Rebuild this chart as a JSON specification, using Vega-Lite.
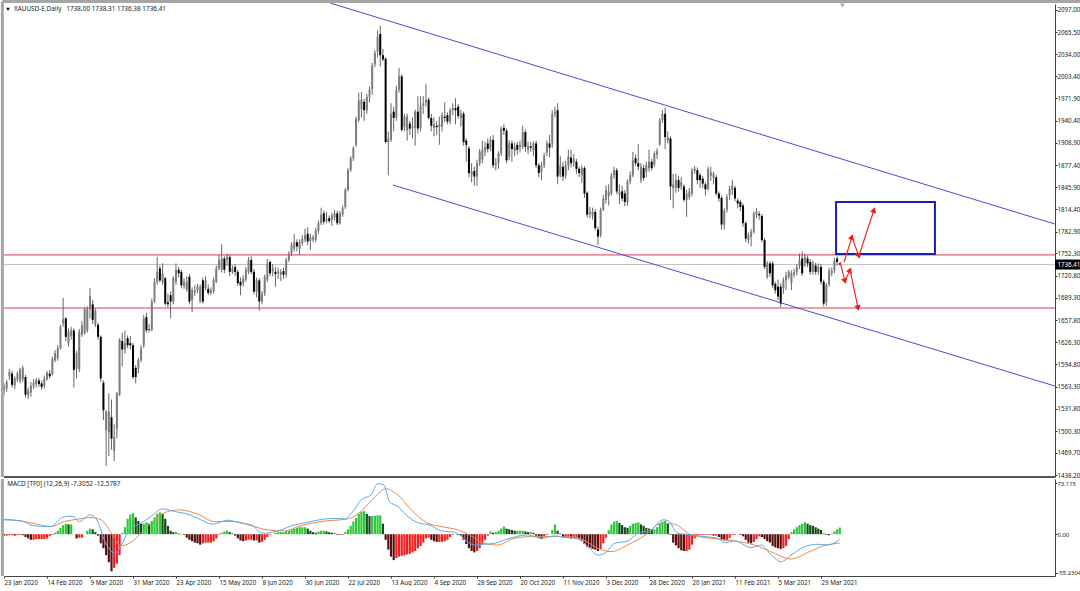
{
"$schema":"https://vega.github.io/schema/vega-lite/v6.json",
"padding":0,
"spacing":-2,
"background":"white",
"config":{"view":{"stroke":null},"text":{"font":"Noto Sans"},
"axis":{"labelFont":"Noto Sans","labelFontSize":6.2,"labelColor":"#222","tickColor":"#333","domainColor":"#444","tickSize":2,"grid":false,"title":null,"labelPadding":0}},
"datasets":{
"bars":[
{"i":0,"o":1558,"h":1568,"l":1551,"c":1564,"m":-2},{"i":1,"o":1561,"h":1573,"l":1556,"c":1570,"m":-2},{"i":2,"o":1578,"h":1588,"l":1573,"c":1584,"m":-1.5},{"i":3,"o":1582,"h":1586,"l":1562,"c":1566,"m":-1.5},{"i":4,"o":1565,"h":1578,"l":1560,"c":1575,"m":-2},{"i":5,"o":1573,"h":1585,"l":1570,"c":1582,"m":-1.5},{"i":6,"o":1572,"h":1590,"l":1568,"c":1588,"m":-1},{"i":7,"o":1574,"h":1593,"l":1570,"c":1590,"m":-1.5},
{"i":8,"o":1577,"h":1580,"l":1548,"c":1552,"m":-4},{"i":9,"o":1551,"h":1562,"l":1546,"c":1558,"m":-6},{"i":10,"o":1555,"h":1570,"l":1549,"c":1565,"m":-8},{"i":11,"o":1564,"h":1574,"l":1560,"c":1569,"m":-8},{"i":12,"o":1567,"h":1576,"l":1562,"c":1573,"m":-7},{"i":13,"o":1572,"h":1576,"l":1563,"c":1567,"m":-7},{"i":14,"o":1568,"h":1572,"l":1559,"c":1563,"m":-7},{"i":15,"o":1565,"h":1579,"l":1561,"c":1575,"m":-7},
{"i":16,"o":1574,"h":1586,"l":1572,"c":1583,"m":-6},{"i":17,"o":1582,"h":1587,"l":1575,"c":1578,"m":-3},{"i":18,"o":1581,"h":1606,"l":1579,"c":1603,"m":-1},{"i":19,"o":1601,"h":1615,"l":1598,"c":1611,"m":2},{"i":20,"o":1604,"h":1622,"l":1600,"c":1618,"m":5},{"i":21,"o":1618,"h":1651,"l":1616,"c":1648,"m":9},{"i":22,"o":1653,"h":1689,"l":1648,"c":1659,"m":13},{"i":23,"o":1660,"h":1662,"l":1628,"c":1634,"m":15},
{"i":24,"o":1625,"h":1646,"l":1620,"c":1641,"m":14},{"i":25,"o":1635,"h":1648,"l":1630,"c":1643,"m":14},{"i":26,"o":1643,"h":1646,"l":1562,"c":1587,"m":0},{"i":27,"o":1589,"h":1614,"l":1575,"c":1611,"m":-6},{"i":28,"o":1588,"h":1645,"l":1584,"c":1641,"m":-5},{"i":29,"o":1637,"h":1656,"l":1634,"c":1650,"m":-5},{"i":30,"o":1639,"h":1676,"l":1637,"c":1673,"m":0},{"i":31,"o":1643,"h":1677,"l":1640,"c":1674,"m":5},
{"i":32,"o":1674,"h":1703,"l":1660,"c":1692,"m":8},{"i":33,"o":1680,"h":1686,"l":1652,"c":1658,"m":7},{"i":34,"o":1651,"h":1674,"l":1648,"c":1671,"m":3},{"i":35,"o":1651,"h":1654,"l":1630,"c":1634,"m":-2},{"i":36,"o":1634,"h":1636,"l":1570,"c":1575,"m":-13},{"i":37,"o":1569,"h":1572,"l":1516,"c":1530,"m":-20},{"i":38,"o":1502,"h":1530,"l":1451,"c":1528,"m":-30},{"i":39,"o":1499,"h":1554,"l":1465,"c":1528,"m":-40},
{"i":40,"o":1520,"h":1545,"l":1474,"c":1490,"m":-53},{"i":41,"o":1472,"h":1510,"l":1458,"c":1492,"m":-48},{"i":42,"o":1504,"h":1556,"l":1490,"c":1554,"m":-42},{"i":43,"o":1552,"h":1632,"l":1550,"c":1630,"m":-30},{"i":44,"o":1628,"h":1640,"l":1592,"c":1616,"m":2},{"i":45,"o":1616,"h":1643,"l":1610,"c":1625,"m":10},{"i":46,"o":1632,"h":1636,"l":1618,"c":1622,"m":22},{"i":47,"o":1625,"h":1635,"l":1616,"c":1622,"m":28},
{"i":48,"o":1622,"h":1625,"l":1574,"c":1577,"m":30},{"i":49,"o":1590,"h":1594,"l":1568,"c":1577,"m":24},{"i":50,"o":1589,"h":1604,"l":1582,"c":1601,"m":19},{"i":51,"o":1601,"h":1622,"l":1598,"c":1618,"m":15},{"i":52,"o":1622,"h":1665,"l":1618,"c":1660,"m":15},{"i":53,"o":1662,"h":1668,"l":1640,"c":1643,"m":17},{"i":54,"o":1645,"h":1652,"l":1640,"c":1644,"m":15},{"i":55,"o":1644,"h":1688,"l":1642,"c":1684,"m":19},
{"i":56,"o":1684,"h":1717,"l":1682,"c":1712,"m":24},{"i":57,"o":1712,"h":1747,"l":1708,"c":1726,"m":29},{"i":58,"o":1731,"h":1735,"l":1711,"c":1714,"m":31},{"i":59,"o":1712,"h":1738,"l":1708,"c":1724,"m":29},{"i":60,"o":1717,"h":1719,"l":1678,"c":1681,"m":22},{"i":61,"o":1683,"h":1695,"l":1676,"c":1680,"m":12},{"i":62,"o":1693,"h":1698,"l":1660,"c":1684,"m":5},{"i":63,"o":1684,"h":1720,"l":1680,"c":1717,"m":3},
{"i":64,"o":1712,"h":1738,"l":1708,"c":1729,"m":3},{"i":65,"o":1729,"h":1733,"l":1718,"c":1724,"m":1},{"i":66,"o":1726,"h":1729,"l":1703,"c":1707,"m":0.5},{"i":67,"o":1706,"h":1717,"l":1702,"c":1712,"m":-1},{"i":68,"o":1701,"h":1720,"l":1698,"c":1712,"m":-5},{"i":69,"o":1719,"h":1723,"l":1680,"c":1684,"m":-8},{"i":70,"o":1686,"h":1704,"l":1669,"c":1700,"m":-10},{"i":71,"o":1697,"h":1707,"l":1692,"c":1700,"m":-12},
{"i":72,"o":1700,"h":1709,"l":1696,"c":1705,"m":-13},{"i":73,"o":1684,"h":1708,"l":1682,"c":1705,"m":-15},{"i":74,"o":1714,"h":1718,"l":1681,"c":1684,"m":-13},{"i":75,"o":1703,"h":1720,"l":1700,"c":1714,"m":-12},{"i":76,"o":1702,"h":1708,"l":1693,"c":1696,"m":-12},{"i":77,"o":1696,"h":1704,"l":1693,"c":1700,"m":-12},{"i":78,"o":1698,"h":1718,"l":1695,"c":1714,"m":-10},{"i":79,"o":1712,"h":1735,"l":1710,"c":1731,"m":-6},
{"i":80,"o":1731,"h":1750,"l":1728,"c":1743,"m":-1},{"i":81,"o":1729,"h":1765,"l":1725,"c":1745,"m":2},{"i":82,"o":1745,"h":1748,"l":1724,"c":1729,"m":4},{"i":83,"o":1743,"h":1752,"l":1735,"c":1747,"m":5},{"i":84,"o":1747,"h":1750,"l":1720,"c":1726,"m":3},{"i":85,"o":1726,"h":1735,"l":1723,"c":1731,"m":1},{"i":86,"o":1733,"h":1737,"l":1720,"c":1726,"m":-2},{"i":87,"o":1726,"h":1729,"l":1706,"c":1710,"m":-6},
{"i":88,"o":1712,"h":1718,"l":1693,"c":1707,"m":-9},{"i":89,"o":1710,"h":1721,"l":1705,"c":1717,"m":-10},{"i":90,"o":1715,"h":1733,"l":1712,"c":1729,"m":-9},{"i":91,"o":1726,"h":1747,"l":1723,"c":1743,"m":-8},{"i":92,"o":1743,"h":1748,"l":1723,"c":1726,"m":-8},{"i":93,"o":1726,"h":1730,"l":1694,"c":1698,"m":-9},{"i":94,"o":1698,"h":1718,"l":1690,"c":1714,"m":-9},{"i":95,"o":1714,"h":1717,"l":1671,"c":1684,"m":-12},
{"i":96,"o":1684,"h":1699,"l":1680,"c":1695,"m":-11},{"i":97,"o":1695,"h":1722,"l":1692,"c":1719,"m":-8},{"i":98,"o":1715,"h":1744,"l":1712,"c":1738,"m":-4},{"i":99,"o":1740,"h":1742,"l":1720,"c":1724,"m":-1},{"i":100,"o":1727,"h":1737,"l":1720,"c":1731,"m":0},{"i":101,"o":1726,"h":1733,"l":1705,"c":1723,"m":2},{"i":102,"o":1724,"h":1732,"l":1716,"c":1727,"m":3},{"i":103,"o":1722,"h":1730,"l":1713,"c":1726,"m":3},
{"i":104,"o":1727,"h":1732,"l":1716,"c":1722,"m":3},{"i":105,"o":1722,"h":1746,"l":1718,"c":1743,"m":4},{"i":106,"o":1743,"h":1755,"l":1740,"c":1752,"m":5},{"i":107,"o":1752,"h":1768,"l":1749,"c":1764,"m":7},{"i":108,"o":1759,"h":1780,"l":1755,"c":1768,"m":8},{"i":109,"o":1768,"h":1772,"l":1755,"c":1762,"m":9},{"i":110,"o":1759,"h":1772,"l":1750,"c":1768,"m":10},{"i":111,"o":1767,"h":1778,"l":1763,"c":1773,"m":10},
{"i":112,"o":1772,"h":1787,"l":1768,"c":1778,"m":10},{"i":113,"o":1780,"h":1789,"l":1764,"c":1769,"m":8},{"i":114,"o":1770,"h":1780,"l":1757,"c":1775,"m":5},{"i":115,"o":1772,"h":1778,"l":1768,"c":1775,"m":3},{"i":116,"o":1771,"h":1789,"l":1768,"c":1785,"m":2},{"i":117,"o":1784,"h":1799,"l":1780,"c":1795,"m":4},{"i":118,"o":1795,"h":1817,"l":1792,"c":1807,"m":5},{"i":119,"o":1809,"h":1813,"l":1793,"c":1797,"m":5},
{"i":120,"o":1798,"h":1811,"l":1795,"c":1801,"m":4},{"i":121,"o":1802,"h":1806,"l":1795,"c":1798,"m":3},{"i":122,"o":1800,"h":1810,"l":1791,"c":1806,"m":2},{"i":123,"o":1803,"h":1814,"l":1799,"c":1809,"m":2},{"i":124,"o":1809,"h":1813,"l":1792,"c":1795,"m":-1},{"i":125,"o":1795,"h":1812,"l":1793,"c":1809,"m":-1},{"i":126,"o":1807,"h":1820,"l":1804,"c":1816,"m":-1},{"i":127,"o":1818,"h":1845,"l":1815,"c":1842,"m":3},
{"i":128,"o":1842,"h":1873,"l":1840,"c":1870,"m":7},{"i":129,"o":1870,"h":1890,"l":1868,"c":1887,"m":12},{"i":130,"o":1887,"h":1904,"l":1883,"c":1901,"m":18},{"i":131,"o":1906,"h":1946,"l":1903,"c":1943,"m":23},{"i":132,"o":1941,"h":1980,"l":1938,"c":1969,"m":29},{"i":133,"o":1957,"h":1981,"l":1945,"c":1970,"m":32},{"i":134,"o":1967,"h":1971,"l":1940,"c":1955,"m":33},{"i":135,"o":1955,"h":1978,"l":1950,"c":1974,"m":29},
{"i":136,"o":1974,"h":1989,"l":1966,"c":1984,"m":26},{"i":137,"o":1985,"h":2022,"l":1977,"c":2018,"m":26},{"i":138,"o":2020,"h":2040,"l":2016,"c":2036,"m":26},{"i":139,"o":2038,"h":2068,"l":2030,"c":2059,"m":27},{"i":140,"o":2063,"h":2075,"l":2017,"c":2033,"m":27},{"i":141,"o":2033,"h":2042,"l":2024,"c":2027,"m":15},{"i":142,"o":2028,"h":2030,"l":1908,"c":1910,"m":-8},{"i":143,"o":1910,"h":1925,"l":1863,"c":1915,"m":-22},
{"i":144,"o":1913,"h":1965,"l":1910,"c":1950,"m":-32},{"i":145,"o":1953,"h":1960,"l":1925,"c":1944,"m":-37},{"i":146,"o":1945,"h":1990,"l":1940,"c":1984,"m":-34},{"i":147,"o":1984,"h":2015,"l":1980,"c":2003,"m":-32},{"i":148,"o":2003,"h":2006,"l":1925,"c":1927,"m":-31},{"i":149,"o":1931,"h":1950,"l":1925,"c":1946,"m":-30},{"i":150,"o":1927,"h":1950,"l":1912,"c":1946,"m":-29},{"i":151,"o":1936,"h":1940,"l":1920,"c":1929,"m":-28},
{"i":152,"o":1930,"h":1945,"l":1915,"c":1932,"m":-26},{"i":153,"o":1930,"h":1956,"l":1905,"c":1953,"m":-24},{"i":154,"o":1953,"h":1975,"l":1922,"c":1929,"m":-20},{"i":155,"o":1930,"h":1975,"l":1925,"c":1962,"m":-17},{"i":156,"o":1962,"h":1975,"l":1950,"c":1965,"m":-12},{"i":157,"o":1966,"h":1992,"l":1960,"c":1970,"m":-6},{"i":158,"o":1970,"h":1973,"l":1942,"c":1944,"m":-5},{"i":159,"o":1944,"h":1950,"l":1925,"c":1933,"m":-8},
{"i":160,"o":1930,"h":1945,"l":1918,"c":1935,"m":-10},{"i":161,"o":1933,"h":1940,"l":1920,"c":1931,"m":-11},{"i":162,"o":1931,"h":1946,"l":1906,"c":1935,"m":-11},{"i":163,"o":1932,"h":1952,"l":1925,"c":1948,"m":-11},{"i":164,"o":1946,"h":1966,"l":1938,"c":1944,"m":-10},{"i":165,"o":1948,"h":1952,"l":1935,"c":1939,"m":-8},{"i":166,"o":1939,"h":1958,"l":1935,"c":1955,"m":-4},{"i":167,"o":1955,"h":1965,"l":1948,"c":1958,"m":-1},
{"i":168,"o":1958,"h":1972,"l":1935,"c":1955,"m":0},{"i":169,"o":1960,"h":1964,"l":1943,"c":1947,"m":-1},{"i":170,"o":1944,"h":1955,"l":1932,"c":1950,"m":-2},{"i":171,"o":1950,"h":1953,"l":1905,"c":1910,"m":-8},{"i":172,"o":1912,"h":1915,"l":1882,"c":1906,"m":-14},{"i":173,"o":1901,"h":1904,"l":1860,"c":1866,"m":-20},{"i":174,"o":1863,"h":1880,"l":1853,"c":1868,"m":-24},{"i":175,"o":1869,"h":1875,"l":1848,"c":1861,"m":-26},
{"i":176,"o":1861,"h":1885,"l":1848,"c":1880,"m":-24},{"i":177,"o":1880,"h":1900,"l":1876,"c":1896,"m":-20},{"i":178,"o":1885,"h":1912,"l":1880,"c":1899,"m":-15},{"i":179,"o":1897,"h":1910,"l":1890,"c":1903,"m":-8},{"i":180,"o":1908,"h":1915,"l":1895,"c":1900,"m":-2},{"i":181,"o":1901,"h":1918,"l":1897,"c":1913,"m":4},{"i":182,"o":1913,"h":1920,"l":1873,"c":1877,"m":2},{"i":183,"o":1877,"h":1887,"l":1870,"c":1880,"m":3},
{"i":184,"o":1880,"h":1897,"l":1872,"c":1894,"m":5},{"i":185,"o":1894,"h":1932,"l":1890,"c":1929,"m":8},{"i":186,"o":1930,"h":1935,"l":1920,"c":1926,"m":11},{"i":187,"o":1926,"h":1929,"l":1880,"c":1884,"m":8},{"i":188,"o":1889,"h":1912,"l":1884,"c":1908,"m":7},{"i":189,"o":1908,"h":1912,"l":1882,"c":1900,"m":6},{"i":190,"o":1897,"h":1909,"l":1890,"c":1903,"m":5},{"i":191,"o":1906,"h":1910,"l":1892,"c":1899,"m":5},
{"i":192,"o":1903,"h":1912,"l":1895,"c":1906,"m":5},{"i":193,"o":1903,"h":1933,"l":1900,"c":1924,"m":5},{"i":194,"o":1924,"h":1928,"l":1896,"c":1903,"m":4},{"i":195,"o":1899,"h":1910,"l":1893,"c":1904,"m":3},{"i":196,"o":1904,"h":1910,"l":1896,"c":1902,"m":3},{"i":197,"o":1898,"h":1911,"l":1890,"c":1908,"m":2},{"i":198,"o":1908,"h":1912,"l":1873,"c":1877,"m":-2},{"i":199,"o":1877,"h":1880,"l":1860,"c":1866,"m":-5},
{"i":200,"o":1868,"h":1882,"l":1856,"c":1877,"m":-7},{"i":201,"o":1877,"h":1895,"l":1873,"c":1891,"m":-4},{"i":202,"o":1895,"h":1912,"l":1890,"c":1908,"m":-1},{"i":203,"o":1908,"h":1920,"l":1888,"c":1902,"m":0.5},{"i":204,"o":1908,"h":1955,"l":1902,"c":1950,"m":6},{"i":205,"o":1950,"h":1960,"l":1945,"c":1953,"m":14},{"i":206,"o":1955,"h":1965,"l":1850,"c":1861,"m":5},{"i":207,"o":1863,"h":1890,"l":1860,"c":1877,"m":1},
{"i":208,"o":1875,"h":1882,"l":1855,"c":1861,"m":-5},{"i":209,"o":1863,"h":1883,"l":1858,"c":1877,"m":-5},{"i":210,"o":1877,"h":1899,"l":1870,"c":1889,"m":-5},{"i":211,"o":1888,"h":1899,"l":1874,"c":1880,"m":-6},{"i":212,"o":1881,"h":1893,"l":1875,"c":1886,"m":-5},{"i":213,"o":1882,"h":1886,"l":1865,"c":1872,"m":-5},{"i":214,"o":1872,"h":1875,"l":1860,"c":1866,"m":-7},{"i":215,"o":1863,"h":1877,"l":1852,"c":1873,"m":-9},
{"i":216,"o":1873,"h":1876,"l":1831,"c":1837,"m":-14},{"i":217,"o":1838,"h":1840,"l":1803,"c":1807,"m":-18},{"i":218,"o":1808,"h":1818,"l":1802,"c":1811,"m":-19},{"i":219,"o":1806,"h":1817,"l":1800,"c":1811,"m":-21},{"i":220,"o":1811,"h":1815,"l":1785,"c":1788,"m":-22},{"i":221,"o":1786,"h":1790,"l":1764,"c":1776,"m":-24},{"i":222,"o":1778,"h":1817,"l":1775,"c":1814,"m":-21},{"i":223,"o":1814,"h":1835,"l":1812,"c":1830,"m":-13},
{"i":224,"o":1828,"h":1848,"l":1823,"c":1842,"m":-5},{"i":225,"o":1833,"h":1850,"l":1820,"c":1840,"m":6},{"i":226,"o":1837,"h":1866,"l":1834,"c":1863,"m":14},{"i":227,"o":1863,"h":1875,"l":1858,"c":1870,"m":18},{"i":228,"o":1870,"h":1873,"l":1836,"c":1840,"m":19},{"i":229,"o":1835,"h":1850,"l":1822,"c":1840,"m":16},{"i":230,"o":1840,"h":1848,"l":1826,"c":1830,"m":13},{"i":231,"o":1837,"h":1842,"l":1819,"c":1825,"m":10},
{"i":232,"o":1825,"h":1857,"l":1820,"c":1854,"m":9},{"i":233,"o":1854,"h":1868,"l":1850,"c":1863,"m":12},{"i":234,"o":1863,"h":1896,"l":1860,"c":1884,"m":15},{"i":235,"o":1887,"h":1892,"l":1876,"c":1880,"m":16},{"i":236,"o":1880,"h":1907,"l":1870,"c":1875,"m":17},{"i":237,"o":1856,"h":1880,"l":1852,"c":1875,"m":14},{"i":238,"o":1873,"h":1878,"l":1855,"c":1859,"m":12},{"i":239,"o":1868,"h":1882,"l":1860,"c":1877,"m":9},
{"i":240,"o":1873,"h":1899,"l":1868,"c":1882,"m":8},{"i":241,"o":1882,"h":1886,"l":1870,"c":1873,"m":7},{"i":242,"o":1878,"h":1897,"l":1875,"c":1894,"m":7},{"i":243,"o":1892,"h":1901,"l":1886,"c":1897,"m":10},{"i":244,"o":1906,"h":1944,"l":1905,"c":1941,"m":15},{"i":245,"o":1941,"h":1955,"l":1937,"c":1950,"m":18},{"i":246,"o":1950,"h":1959,"l":1900,"c":1917,"m":19},{"i":247,"o":1912,"h":1925,"l":1908,"c":1917,"m":15},
{"i":248,"o":1915,"h":1918,"l":1828,"c":1847,"m":-1},{"i":249,"o":1845,"h":1865,"l":1816,"c":1850,"m":-12},{"i":250,"o":1845,"h":1865,"l":1838,"c":1856,"m":-16},{"i":251,"o":1856,"h":1862,"l":1840,"c":1845,"m":-20},{"i":252,"o":1847,"h":1860,"l":1842,"c":1853,"m":-23},{"i":253,"o":1847,"h":1850,"l":1825,"c":1828,"m":-24},{"i":254,"o":1828,"h":1842,"l":1804,"c":1837,"m":-24},{"i":255,"o":1832,"h":1845,"l":1828,"c":1840,"m":-22},
{"i":256,"o":1837,"h":1873,"l":1833,"c":1870,"m":-15},{"i":257,"o":1869,"h":1876,"l":1865,"c":1872,"m":-6},{"i":258,"o":1870,"h":1874,"l":1850,"c":1856,"m":-2},{"i":259,"o":1863,"h":1866,"l":1845,"c":1856,"m":-1},{"i":260,"o":1858,"h":1862,"l":1845,"c":1851,"m":-1},{"i":261,"o":1850,"h":1853,"l":1834,"c":1843,"m":-1},{"i":262,"o":1844,"h":1875,"l":1841,"c":1872,"m":-1},{"i":263,"o":1862,"h":1875,"l":1855,"c":1867,"m":-1},
{"i":264,"o":1859,"h":1868,"l":1850,"c":1865,"m":-2},{"i":265,"o":1860,"h":1863,"l":1834,"c":1837,"m":-2},{"i":266,"o":1837,"h":1840,"l":1825,"c":1830,"m":-4},{"i":267,"o":1831,"h":1834,"l":1786,"c":1793,"m":-8},{"i":268,"o":1793,"h":1816,"l":1786,"c":1813,"m":-9},{"i":269,"o":1814,"h":1836,"l":1810,"c":1832,"m":-9},{"i":270,"o":1835,"h":1848,"l":1828,"c":1844,"m":-5},{"i":271,"o":1842,"h":1856,"l":1835,"c":1848,"m":-1},
{"i":272,"o":1845,"h":1848,"l":1826,"c":1830,"m":-1},{"i":273,"o":1827,"h":1830,"l":1816,"c":1823,"m":0},{"i":274,"o":1825,"h":1828,"l":1812,"c":1818,"m":-1},{"i":275,"o":1820,"h":1823,"l":1790,"c":1795,"m":-3},{"i":276,"o":1795,"h":1798,"l":1768,"c":1773,"m":-8},{"i":277,"o":1771,"h":1782,"l":1766,"c":1778,"m":-12},{"i":278,"o":1776,"h":1787,"l":1762,"c":1783,"m":-13},{"i":279,"o":1783,"h":1812,"l":1780,"c":1809,"m":-11},
{"i":280,"o":1807,"h":1816,"l":1802,"c":1811,"m":-7},{"i":281,"o":1808,"h":1812,"l":1800,"c":1806,"m":-3},{"i":282,"o":1805,"h":1808,"l":1768,"c":1771,"m":-4},{"i":283,"o":1771,"h":1774,"l":1730,"c":1733,"m":-7},{"i":284,"o":1719,"h":1741,"l":1716,"c":1738,"m":-10},{"i":285,"o":1738,"h":1741,"l":1719,"c":1724,"m":-12},{"i":286,"o":1738,"h":1741,"l":1703,"c":1707,"m":-17},{"i":287,"o":1709,"h":1712,"l":1695,"c":1700,"m":-19},
{"i":288,"o":1705,"h":1715,"l":1686,"c":1691,"m":-20},{"i":289,"o":1705,"h":1710,"l":1676,"c":1681,"m":-21},{"i":290,"o":1703,"h":1718,"l":1695,"c":1714,"m":-20},{"i":291,"o":1714,"h":1726,"l":1700,"c":1721,"m":-17},{"i":292,"o":1719,"h":1729,"l":1716,"c":1726,"m":-7},{"i":293,"o":1710,"h":1728,"l":1700,"c":1724,"m":3},{"i":294,"o":1722,"h":1730,"l":1718,"c":1726,"m":7},{"i":295,"o":1726,"h":1737,"l":1721,"c":1733,"m":10},
{"i":296,"o":1735,"h":1752,"l":1730,"c":1742,"m":13},{"i":297,"o":1745,"h":1755,"l":1720,"c":1724,"m":15},{"i":298,"o":1738,"h":1752,"l":1733,"c":1747,"m":17},{"i":299,"o":1745,"h":1749,"l":1733,"c":1738,"m":15},{"i":300,"o":1740,"h":1744,"l":1722,"c":1726,"m":13},{"i":301,"o":1726,"h":1742,"l":1722,"c":1738,"m":12},{"i":302,"o":1735,"h":1739,"l":1722,"c":1726,"m":10},{"i":303,"o":1726,"h":1738,"l":1722,"c":1733,"m":8},
{"i":304,"o":1733,"h":1737,"l":1708,"c":1712,"m":6},{"i":305,"o":1712,"h":1715,"l":1677,"c":1681,"m":1},{"i":306,"o":1683,"h":1710,"l":1678,"c":1707,"m":-1},{"i":307,"o":1708,"h":1732,"l":1705,"c":1728,"m":-1.5},{"i":308,"o":1724,"h":1732,"l":1720,"c":1728,"m":1},{"i":309,"o":1728,"h":1746,"l":1724,"c":1742,"m":4},{"i":310,"o":1745,"h":1748,"l":1735,"c":1740,"m":7},{"i":311,"o":1738,"h":1738.31,"l":1736.38,"c":1736.41,"m":9.5}
],
"macd":[
{"i":0,"v":20.5},{"i":6.3,"v":19},{"i":11.3,"v":11.9},{"i":17.5,"v":10.9},{"i":21.2,"v":22.9},{"i":23.7,"v":25.7},{"i":25.9,"v":25.3},{"i":28,"v":18},{"i":32.1,"v":27.6},{"i":34.9,"v":18},{"i":37.3,"v":-8.2},{"i":41.7,"v":-27.3},{"i":43.5,"v":-16.3},{"i":46.7,"v":6.1},{"i":51,"v":15.7},{"i":54.7,"v":25.3},{"i":59,"v":36.2},{"i":63.4,"v":32.4},{"i":68.4,"v":28.6},{"i":73.3,"v":20.5},{"i":77.7,"v":14.3},{"i":83.3,"v":20},{"i":88.2,"v":15.7},{"i":91.9,"v":13.3},{"i":96.3,"v":1.3},{"i":101.9,"v":4.7},{"i":108.1,"v":13.3},{"i":113,"v":17.1},{"i":118.6,"v":21.4},{"i":123,"v":22.4},{"i":126.7,"v":21.9},{"i":129.8,"v":32.4},{"i":132.9,"v":49.1},{"i":136.6,"v":56.3},{"i":139.1,"v":72.1},{"i":141.3,"v":70.7},{"i":143.4,"v":46.8},{"i":146.5,"v":39.6},{"i":151,"v":22.9},{"i":154.6,"v":15.7},{"i":158.3,"v":13.3},{"i":162.7,"v":4.7},{"i":167.6,"v":2.8},{"i":175.1,"v":-15.4},{"i":178.8,"v":-14.4},{"i":182.5,"v":-13},{"i":187.4,"v":-6.8},{"i":194.9,"v":-1},{"i":199.9,"v":-5.8},{"i":204.8,"v":-2.5},{"i":209.8,"v":-4.9},{"i":213.5,"v":-6.8},{"i":217.3,"v":-17.8},{"i":221,"v":-29.7},{"i":223.5,"v":-27.3},{"i":227.2,"v":-13},{"i":232.1,"v":-9.6},{"i":235.9,"v":1.4},{"i":240.8,"v":6.1},{"i":245.2,"v":20.5},{"i":247,"v":19.5},{"i":250.7,"v":1.4},{"i":255.7,"v":-1},{"i":260.7,"v":-3.4},{"i":265.6,"v":-5.8},{"i":268.1,"v":-12},{"i":271.9,"v":-9.6},{"i":278,"v":-19.2},{"i":281.8,"v":-15.4},{"i":285.5,"v":-29.7},{"i":289.2,"v":-39.3},{"i":292.9,"v":-29.7},{"i":297.9,"v":-17.8},{"i":302.8,"v":-14.4},{"i":306.6,"v":-15.4},{"i":311,"v":-7.31}
],
"signal":[
{"i":0,"v":21.4},{"i":6.3,"v":19},{"i":11.3,"v":15.2},{"i":17.5,"v":10.9},{"i":22.5,"v":18.1},{"i":27.4,"v":21.4},{"i":32.4,"v":23.8},{"i":36.1,"v":20.5},{"i":40.4,"v":-1},{"i":43.5,"v":-16.3},{"i":46.7,"v":-13},{"i":51,"v":1.4},{"i":56,"v":20.5},{"i":60.9,"v":32.4},{"i":65.3,"v":34.8},{"i":72.1,"v":28.6},{"i":78.3,"v":18.1},{"i":85.7,"v":18.1},{"i":91.9,"v":12.3},{"i":98.1,"v":6.1},{"i":104.3,"v":4.7},{"i":110.5,"v":12.3},{"i":118,"v":18.1},{"i":127.9,"v":21.9},{"i":133.5,"v":34.8},{"i":137.8,"v":52.5},{"i":142.2,"v":64.9},{"i":146.5,"v":56.3},{"i":151.5,"v":34.8},{"i":157.7,"v":15.7},{"i":162.7,"v":10.9},{"i":168.9,"v":6.1},{"i":173.2,"v":-1},{"i":178.8,"v":-13},{"i":183.7,"v":-15.4},{"i":190,"v":-5.8},{"i":196.2,"v":-3.4},{"i":202.4,"v":-3.4},{"i":209.8,"v":-3.4},{"i":214.8,"v":-6.8},{"i":221,"v":-20.2},{"i":225.9,"v":-24.9},{"i":232.1,"v":-15.4},{"i":239.6,"v":1.4},{"i":244.5,"v":15.7},{"i":249.5,"v":14.3},{"i":255.7,"v":-1},{"i":263.1,"v":-5.8},{"i":271.9,"v":-9.6},{"i":279.2,"v":-15.4},{"i":286.7,"v":-27.3},{"i":292.9,"v":-35.5},{"i":299.1,"v":-25.9},{"i":305.3,"v":-16.3},{"i":311,"v":-12.58}
],
"channel":[
{"name":"upper","i":121.3,"p":2106.9},{"name":"upper","i":391,"p":1793.8},
{"name":"lower","i":144.7,"p":1849.1},{"name":"lower","i":391,"p":1564.3}
],
"arrows":[
{"path":"a","n":0,"i":312.6,"p":1740},{"path":"a","n":1,"i":315.5,"p":1775.4},{"path":"a","n":2,"i":318.1,"p":1748.5},{"path":"a","n":3,"i":323.7,"p":1813.6},
{"path":"b","n":0,"i":311.1,"p":1740},{"path":"b","n":1,"i":312.9,"p":1713},{"path":"b","n":2,"i":314.8,"p":1728.6},{"path":"b","n":3,"i":317.8,"p":1674.8}
],
"heads":[
{"i":315.5,"p":1775.4,"bearing":18},{"i":318.1,"p":1748.5,"bearing":160},{"i":323.7,"p":1813.6,"bearing":18},
{"i":312.9,"p":1713,"bearing":165},{"i":314.8,"p":1728.6,"bearing":24},{"i":317.8,"p":1674.8,"bearing":168}
]
},
"vconcat":[
{
"width":1051,"height":473,
"layer":[
{"data":{"values":[{"p":1736.41}]},"mark":{"type":"rule","color":"#c4c4c4","strokeWidth":1},"encoding":{"y":{"field":"p","type":"quantitative","scale":{"domain":[1435.4,2105.5],"nice":false,"zero":false},"axis":{"orient":"right","labelOverlap":false,"tickCount":30,"values":[2097,2065.5,2034,2003.4,1971.9,1940.4,1908.9,1877.4,1845.9,1814.4,1782.9,1752.3,1720.8,1689.3,1657.8,1626.3,1594.8,1563.3,1531.8,1500.3,1469.7,1438.2],"format":".2f"}}}},
{"data":{"values":[{"p":1750},{"p":1674.8}]},"mark":{"type":"rule","color":"#d93a52","strokeWidth":1},"encoding":{"y":{"field":"p","type":"quantitative"}}},
{"data":{"name":"bars"},"mark":{"type":"rule","color":"#555","strokeWidth":0.9},"encoding":{"x":{"field":"i","type":"quantitative","scale":{"domain":[0,391.07],"nice":false,"zero":false},"axis":null},"y":{"field":"l","type":"quantitative"},"y2":{"field":"h"}}},
{"data":{"name":"bars"},"mark":{"type":"rule","strokeWidth":2},"encoding":{"x":{"field":"i","type":"quantitative"},"y":{"field":"o","type":"quantitative"},"y2":{"field":"c"},"color":{"condition":{"test":"datum.c>=datum.o","value":"#7d7d7d"},"value":"#000"}}},
{"data":{"name":"channel"},"mark":{"type":"line","color":"#4a4ad6","strokeWidth":1},"encoding":{"x":{"field":"i","type":"quantitative"},"y":{"field":"p","type":"quantitative"},"detail":{"field":"name"}}},
{"data":{"values":[{"i":309.6,"i2":346.4,"p":1825,"p2":1751.3}]},"mark":{"type":"rect","filled":false,"stroke":"#1c1cb4","strokeWidth":2},"encoding":{"x":{"field":"i","type":"quantitative"},"x2":{"field":"i2"},"y":{"field":"p","type":"quantitative"},"y2":{"field":"p2"}}},
{"data":{"name":"arrows"},"mark":{"type":"line","color":"#ee2b2b","strokeWidth":1.2},"encoding":{"x":{"field":"i","type":"quantitative"},"y":{"field":"p","type":"quantitative"},"detail":{"field":"path"},"order":{"field":"n"}}},
{"data":{"name":"heads"},"mark":{"type":"point","shape":"triangle-up","filled":true,"color":"#ee1c1c","opacity":1,"size":42},"encoding":{"x":{"field":"i","type":"quantitative"},"y":{"field":"p","type":"quantitative"},"angle":{"field":"bearing","type":"quantitative","scale":null}}},
{"data":{"values":[{"i":391.07,"i2":400.5,"p":1743.5,"p2":1729.3}]},"mark":{"type":"rect","color":"#000"},"encoding":{"x":{"field":"i","type":"quantitative"},"x2":{"field":"i2"},"y":{"field":"p","type":"quantitative"},"y2":{"field":"p2"}}},
{"data":{"values":[{"i":392,"p":1736.41,"t":"1736.41"}]},"mark":{"type":"text","align":"left","baseline":"middle","color":"#fff","fontSize":6.2},"encoding":{"x":{"field":"i","type":"quantitative"},"y":{"field":"p","type":"quantitative"},"text":{"field":"t"}}},
{"data":{"values":[{"i":3.7,"p":2098,"t":"XAUUSD-E,Daily\u00a0\u00a0\u00a01738.00 1738.31 1736.38 1736.41"}]},"mark":{"type":"text","align":"left","baseline":"middle","color":"#222","fontSize":6.4},"encoding":{"x":{"field":"i","type":"quantitative"},"y":{"field":"p","type":"quantitative"},"text":{"field":"t"}}},
{"data":{"values":[{"i":1.5,"p":2098}]},"mark":{"type":"point","shape":"triangle-down","filled":true,"color":"#111","opacity":1,"size":14},"encoding":{"x":{"field":"i","type":"quantitative"},"y":{"field":"p","type":"quantitative"}}},
{"data":{"values":[{"i":312,"p":2103.5}]},"mark":{"type":"point","shape":"triangle-down","filled":true,"color":"#aaa","opacity":1,"size":22},"encoding":{"x":{"field":"i","type":"quantitative"},"y":{"field":"p","type":"quantitative"}}},
{"data":{"values":[{"i":-0.6,"p":1435.4,"p2":2109}]},"mark":{"type":"rule","color":"#a6a6a6","strokeWidth":3},"encoding":{"x":{"field":"i","type":"quantitative"},"y":{"field":"p","type":"quantitative"},"y2":{"field":"p2"}}},
{"data":{"values":[{"i":-0.6,"i2":400.5,"p":2109}]},"mark":{"type":"rule","color":"#a6a6a6","strokeWidth":3},"encoding":{"x":{"field":"i","type":"quantitative"},"x2":{"field":"i2"},"y":{"field":"p","type":"quantitative"}}},
{"data":{"values":[{"p":1435.4}]},"mark":{"type":"rule","color":"#555","strokeWidth":2},"encoding":{"y":{"field":"p","type":"quantitative"}}}
]
},
{
"width":1051,"height":97,
"layer":[
{"data":{"name":"bars"},"transform":[{"window":[{"op":"lag","field":"m","param":1,"as":"prev"}],"sort":[{"field":"i"}]}],"mark":{"type":"rule","strokeWidth":2.2},"encoding":{"x":{"field":"i","type":"quantitative","scale":{"domain":[0,391.07],"nice":false,"zero":false},"axis":{"orient":"bottom","labelOverlap":false,"tickCount":30,"values":[0,16,32,48,64,80,96,112,128,144,160,176,192,208,224,240,256,272,288,304],"labelAlign":"left","labelAngle":0,"labelFlush":false,"labelPadding":1,"labelExpr":"['23 Jan 2020','14 Feb 2020','9 Mar 2020','31 Mar 2020','23 Apr 2020','15 May 2020','8 Jun 2020','30 Jun 2020','22 Jul 2020','13 Aug 2020','4 Sep 2020','28 Sep 2020','20 Oct 2020','11 Nov 2020','3 Dec 2020','28 Dec 2020','20 Jan 2021','11 Feb 2021','5 Mar 2021','29 Mar 2021'][datum.value/16]"}},"y":{"field":"m","type":"quantitative","scale":{"domain":[-59.7,78.85],"nice":false,"zero":false},"axis":{"orient":"right","labelOverlap":false,"labelFontSize":5.9,"tickCount":10,"values":[73.115,0,-55.2304],"labelExpr":"datum.value==0?'0.00':''+datum.value"}},"y2":{"datum":0},"color":{"condition":[{"test":"datum.m>=0&&datum.m>=datum.prev","value":"#2fc63c"},{"test":"datum.m>=0","value":"#124d18"},{"test":"datum.m<datum.prev","value":"#5a1010"}],"value":"#f01f1f"}}},
{"data":{"name":"signal"},"mark":{"type":"line","color":"#e8894a","strokeWidth":1,"interpolate":"monotone"},"encoding":{"x":{"field":"i","type":"quantitative"},"y":{"field":"v","type":"quantitative"}}},
{"data":{"name":"macd"},"mark":{"type":"line","color":"#5aa9ee","strokeWidth":1,"interpolate":"monotone"},"encoding":{"x":{"field":"i","type":"quantitative"},"y":{"field":"v","type":"quantitative"}}},
{"data":{"values":[{"i":1.2,"v":71.5,"t":"MACD [TF0] (12,26,9) -7.3052 -12.5787"}]},"mark":{"type":"text","align":"left","baseline":"middle","color":"#222","fontSize":6.4},"encoding":{"x":{"field":"i","type":"quantitative"},"y":{"field":"v","type":"quantitative"},"text":{"field":"t"}}},
{"data":{"values":[{"i":-0.6,"v":-59.7,"v2":78.85}]},"mark":{"type":"rule","color":"#a6a6a6","strokeWidth":3},"encoding":{"x":{"field":"i","type":"quantitative"},"y":{"field":"v","type":"quantitative"},"y2":{"field":"v2"}}}
]
}
],
"resolve":{"scale":{"x":"independent","y":"independent"}}
}
